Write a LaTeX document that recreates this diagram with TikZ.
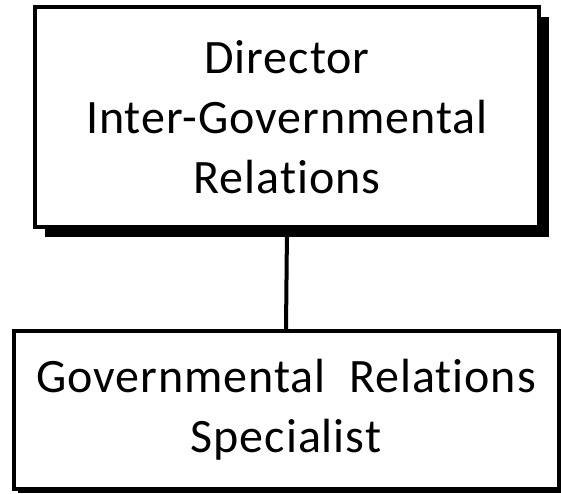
\documentclass[tikz,border=0pt]{standalone}
\usepackage{fontspec}
\setmainfont{Carlito}[Ligatures={NoCommon}, LetterSpace=2]
\usetikzlibrary{shadows}

\begin{document}
\begin{tikzpicture}[x=1pt,y=-1pt,
		postbox/.style={draw, line width=4pt, fill=white, align=center, inner sep=0pt,
			font=\fontsize{48}{60}\selectfont},
		bigshadow/.style={general shadow={fill=black, shadow xshift=10pt, shadow yshift=-10pt}},
		thinshadow/.style={general shadow={fill=black, shadow xshift=4pt, shadow yshift=-4pt}}]
		\useasboundingbox (0,0) rectangle (561,494);

		% Director box
		\node[postbox, bigshadow, minimum width=504pt, minimum height=220pt] (director) at (287,117)
			{Director\\Inter-Governmental\\Relations};

		% Specialist box
		\node[postbox, thinshadow, minimum width=545pt, minimum height=158pt] (specialist) at (286,410)
			{Governmental~~Relations\\Specialist};

		% Connector
		\draw[line width=4pt] (director.south) -- (specialist.north);
	\end{tikzpicture}
\end{document}
